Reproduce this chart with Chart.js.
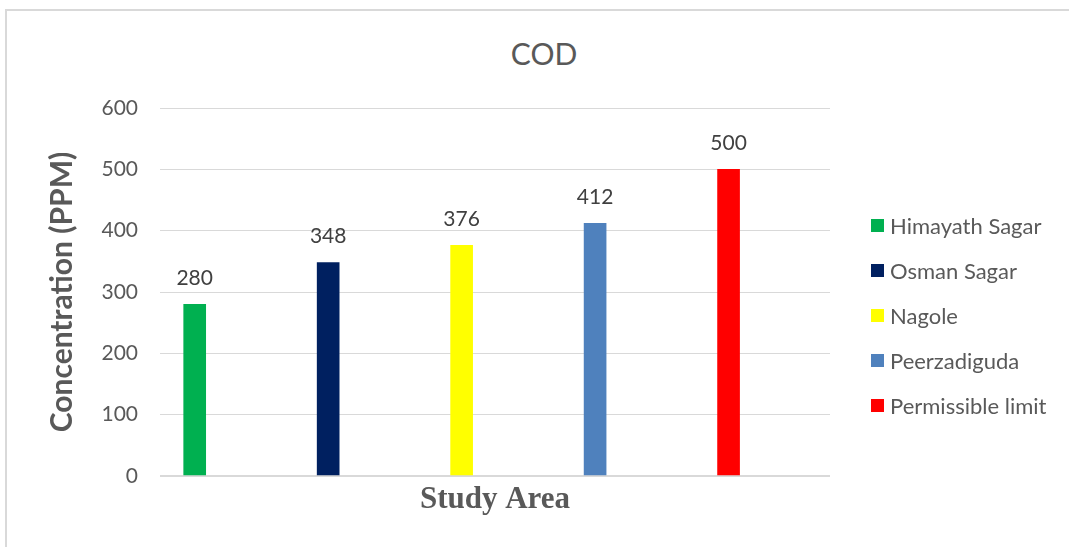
<!DOCTYPE html>
<html>
<head>
<meta charset="utf-8">
<title>COD</title>
<script src="https://cdn.jsdelivr.net/npm/chart.js@4.4.1/dist/chart.umd.min.js"></script>
<style>
  html, body { margin: 0; padding: 0; background: #fff; overflow: hidden; }
  body { width: 1069px; height: 547px; position: relative; font-family: Lato, sans-serif; color: #595959; }
  .frame {
    position: absolute; left: 5px; top: 9px;
    width: 1200px; height: 700px;
    border: 2px solid #d9d9d9;
  }
  #wrap { position: absolute; left: 0; top: 0; width: 1069px; height: 547px; }
  .chart-title {
    position: absolute; left: 0; width: 1088px; top: 35px;
    text-align: center; font-size: 30px; line-height: 36px;
  }
  #legend {
    position: absolute; left: 871px; top: 203px;
    margin: 0; padding: 0; list-style: none;
  }
  #legend li {
    display: flex; align-items: center;
    height: 45px; font-size: 22px; white-space: nowrap;
  }
  #legend .swatch { width: 13px; height: 13px; margin-right: 6px; flex: none; }
</style>
</head>
<body>
<div class="frame"></div>
<div class="chart-title">COD</div>
<div id="wrap"><canvas id="cod-chart"></canvas></div>
<ul id="legend"></ul>
<script>
// Sampling sites and measured COD
const sites = ['Himayath Sagar', 'Osman Sagar', 'Nagole', 'Peerzadiguda', 'Permissible limit'];
const codValues = [280, 348, 376, 412, 500];
const siteColors = ['#00B050', '#002060', '#FFFF00', '#4F81BD', '#FF0000'];
const yTicks = [0, 100, 200, 300, 400, 500, 600];

const textGrey = '#595959';

// Value labels above each bar
const barValues = {
  id: 'barValues',
  afterDatasetsDraw(chart) {
    const ctx = chart.ctx;
    ctx.save();
    ctx.font = '21px Lato';
    ctx.fillStyle = '#404040';
    ctx.textAlign = 'center';
    ctx.textBaseline = 'middle';
    chart.getSortedVisibleDatasetMetas().forEach(meta => {
      meta.data.forEach((bar, i) => {
        const value = chart.data.datasets[meta.index].data[i].y;
        ctx.fillText(value, bar.x, bar.y - 26);
      });
    });
    ctx.restore();
  }
};

// Build the HTML legend from the chart's datasets
const htmlLegend = {
  id: 'htmlLegend',
  afterUpdate(chart) {
    const list = document.getElementById('legend');
    list.innerHTML = '';
    chart.data.datasets.forEach(ds => {
      const li = document.createElement('li');
      const box = document.createElement('span');
      box.className = 'swatch';
      box.style.background = ds.backgroundColor;
      li.appendChild(box);
      li.appendChild(document.createTextNode(ds.label));
      list.appendChild(li);
    });
  }
};

// One dataset per site so each bar gets its own legend entry
const datasets = sites.map((name, i) => ({
  label: name,
  data: [{ x: i, y: codValues[i] }],
  backgroundColor: siteColors[i],
  barThickness: 22,
  grouped: false
}));

const ctx = document.getElementById('cod-chart').getContext('2d');
new Chart(ctx, {
  type: 'bar',
  data: { datasets },
  plugins: [barValues, htmlLegend],
  options: {
    responsive: true,
    maintainAspectRatio: false,
    animation: false,
    layout: { padding: { left: 0, top: 108, right: 239, bottom: 0 } },
    scales: {
      x: {
        type: 'linear',
        offset: false,
        min: -0.26,
        max: 4.76,
        grid: { display: false },
        border: { display: false },
        ticks: { display: false },
        title: {
          display: true,
          text: 'Study Area',
          color: textGrey,
          font: { family: 'Liberation Serif', size: 31, weight: 'bold' },
          padding: { top: 0, bottom: 28 }
        },
        afterFit(scale) { scale.height = 71; }
      },
      y: {
        min: 0,
        max: 600,
        afterBuildTicks(scale) { scale.ticks = yTicks.map(v => ({ value: v })); },
        grid: {
          color: '#d9d9d9',
          lineWidth: c => (c.tick && c.tick.value === 0 ? 2 : 1),
          drawTicks: false
        },
        border: { display: false },
        ticks: {
          color: textGrey,
          padding: 22,
          font: { family: 'Lato', size: 21 }
        },
        title: {
          display: true,
          text: 'Concentration (PPM)',
          color: textGrey,
          font: { family: 'Lato', size: 30, weight: 'bold' },
          padding: { top: 44, bottom: 0 }
        },
        afterFit(scale) { scale.width = 160; }
      }
    },
    plugins: {
      title: { display: false },
      legend: { display: false },
      tooltip: { enabled: false }
    }
  }
});
</script>
</body>
</html>
